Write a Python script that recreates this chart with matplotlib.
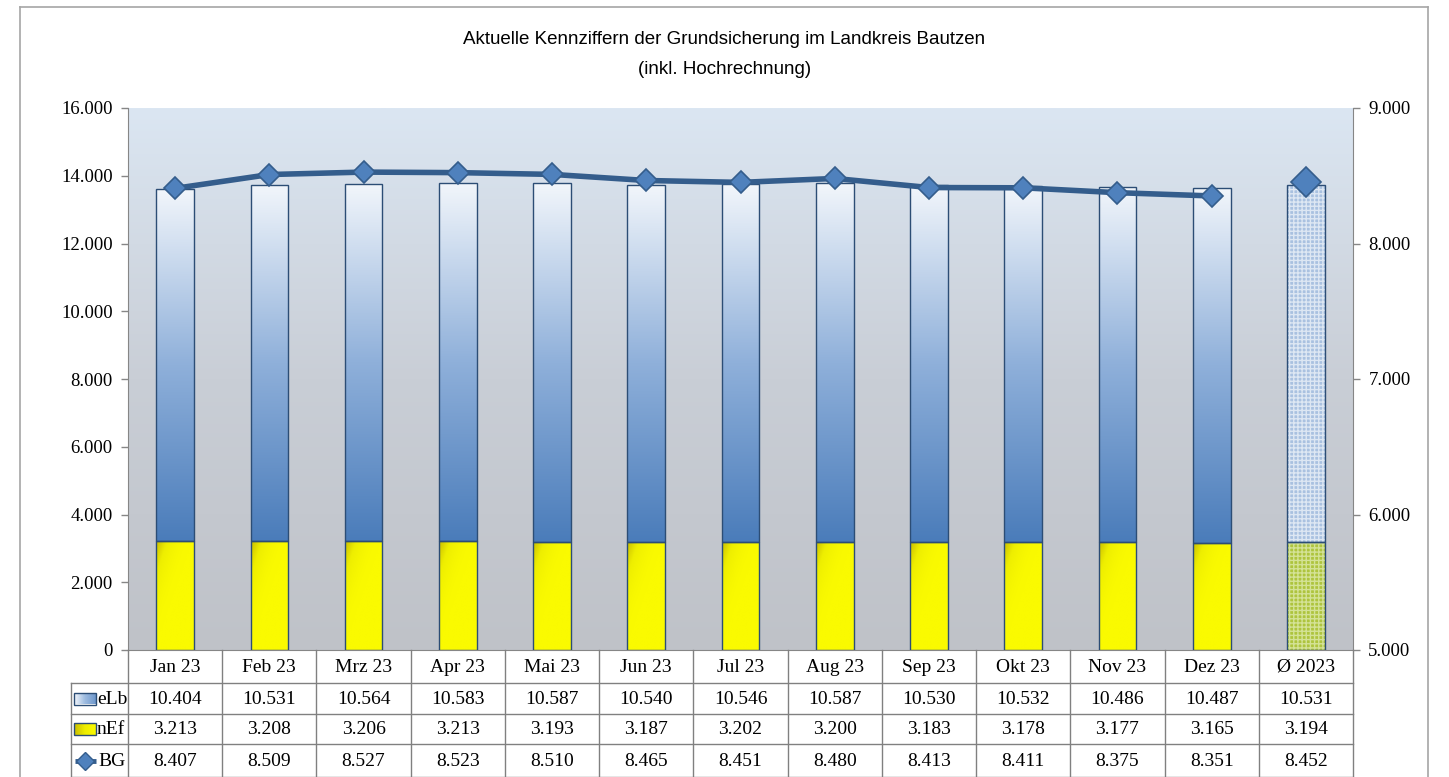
import numpy as np
import matplotlib.pyplot as plt
import matplotlib.transforms as mtransforms
from matplotlib.colors import LinearSegmentedColormap
from matplotlib.lines import Line2D
from matplotlib.patches import Rectangle

# Daten
monate = ['Jan 23', 'Feb 23', 'Mrz 23', 'Apr 23', 'Mai 23', 'Jun 23', 'Jul 23',
          'Aug 23', 'Sep 23', 'Okt 23', 'Nov 23', 'Dez 23', 'Ø 2023']
elb = [10404, 10531, 10564, 10583, 10587, 10540, 10546, 10587, 10530, 10532, 10486, 10487, 10531]
nef = [3213, 3208, 3206, 3213, 3193, 3187, 3202, 3200, 3183, 3178, 3177, 3165, 3194]
bg = [8407, 8509, 8527, 8523, 8510, 8465, 8451, 8480, 8413, 8411, 8375, 8351, 8452]

W, H = 1449, 777
SERIF = 'Liberation Serif'


def fmt(v):
    return f'{v:,}'.replace(',', '.')


def fx(px):
    return px / W


def fy(py):
    return 1 - py / H


fig = plt.figure(figsize=(W / 100, H / 100), dpi=100)
fig.patch.set_facecolor('white')
ax = fig.add_axes([fx(128), fy(650), (1353 - 128) / W, (650 - 108) / H])
x = np.arange(len(monate))

# Hintergrund-Verlauf
bg_cmap = LinearSegmentedColormap.from_list('bg', ['#bfc2c8', '#c9ced6', '#dbe6f2'])
grad = np.linspace(0, 1, 256).reshape(-1, 1)
ax.imshow(grad, extent=[-0.5, 12.5, 0, 16000], origin='lower', aspect='auto',
          cmap=bg_cmap, zorder=0)

# Balken mit Verlauf
elb_cmap = LinearSegmentedColormap.from_list('elb', ['#4a7cba', '#8fb0da', '#f2f6fb'])
nef_cmap = LinearSegmentedColormap.from_list('nef', ['#fafa00', '#eeee00', '#c9bd00'])
diag = np.add.outer(np.linspace(1, 0, 64), np.linspace(0, -1, 32))
diag = np.clip(diag, 0, 1) ** 2

bars_nef = ax.bar(x[:12], nef[:12], width=0.4, facecolor='none',
                  edgecolor='#2c4d75', linewidth=1, zorder=3)
bars_elb = ax.bar(x[:12], elb[:12], width=0.4, bottom=nef[:12], facecolor='none',
                  edgecolor='#2c4d75', linewidth=1, zorder=3)
for p in bars_elb:
    im = ax.imshow(grad, extent=[p.get_x(), p.get_x() + p.get_width(), p.get_y(),
                                 p.get_y() + p.get_height()],
                   origin='lower', aspect='auto', cmap=elb_cmap, zorder=2)
    im.set_clip_path(p)
for p in bars_nef:
    im = ax.imshow(diag, extent=[p.get_x(), p.get_x() + p.get_width(), p.get_y(),
                                 p.get_y() + p.get_height()],
                   origin='upper', aspect='auto', cmap=nef_cmap, zorder=2)
    im.set_clip_path(p)

# Durchschnittsbalken gemustert
plt.rcParams['hatch.linewidth'] = 1.0
ax.bar(x[12], nef[12], width=0.4, facecolor='#aec43e', edgecolor='#d4e296',
       hatch='++++', linewidth=0, zorder=2)
ax.bar(x[12], elb[12], width=0.4, bottom=nef[12], facecolor='#a9c1e0',
       edgecolor='#dde7f3', hatch='++++', linewidth=0, zorder=2)
ax.bar(x[12], nef[12], width=0.4, facecolor='none', edgecolor='#2c4d75', linewidth=1, zorder=3)
ax.bar(x[12], elb[12], width=0.4, bottom=nef[12], facecolor='none',
       edgecolor='#2c4d75', linewidth=1, zorder=3)

ax.set_xlim(-0.5, 12.5)
ax.set_ylim(0, 16000)
ax.set_yticks(np.arange(0, 16001, 2000))
ax.set_yticklabels([fmt(v) for v in range(0, 16001, 2000)])
ax.set_xticks([])

# BG-Linie auf rechter Achse
ax2 = ax.twinx()
ax2.plot(x[:12], bg[:12], color='#345d8c', linewidth=4, marker='D', markersize=11,
         markerfacecolor='#4f81bd', markeredgecolor='#345d8c', markeredgewidth=1.2, zorder=5)
ax2.plot(x[12], bg[12], linestyle='none', marker='D', markersize=15,
         markerfacecolor='#4f81bd', markeredgecolor='#345d8c', markeredgewidth=1.2, zorder=5)
ax2.set_ylim(5000, 9000)
ax2.set_yticks(np.arange(5000, 9001, 1000))
ax2.set_yticklabels([fmt(v) for v in range(5000, 9001, 1000)])

for a in (ax, ax2):
    for s in a.spines.values():
        s.set_visible(False)
    a.tick_params(axis='y', length=5, width=1, color='#868686', labelsize=13.5,
                  labelcolor='black', pad=6)
    for lbl in a.get_yticklabels():
        lbl.set_fontfamily(SERIF)
ax.spines['left'].set_visible(True)
ax.spines['left'].set_color('#868686')
ax.spines['bottom'].set_visible(True)
ax.spines['bottom'].set_color('#868686')
ax2.spines['right'].set_visible(True)
ax2.spines['right'].set_color('#868686')

# Titel
fig.text(0.5, fy(39), 'Aktuelle Kennziffern der Grundsicherung im Landkreis Bautzen',
         ha='center', va='center', fontsize=13.5, family='Liberation Sans')
fig.text(0.5, fy(70), '(inkl. Hochrechnung)',
         ha='center', va='center', fontsize=13.5, family='Liberation Sans')

# Rahmen
for xs, ys in [((20, 1428), (7, 7)), ((20, 20), (7, 800)), ((1428, 1428), (7, 800))]:
    fig.add_artist(Line2D([fx(v) for v in xs], [fy(v) for v in ys], color='#a6a6a6', linewidth=1.2))

# Datentabelle
grid = '#808080'
tx = mtransforms.blended_transform_factory(ax.transData, fig.transFigure)
ta = mtransforms.blended_transform_factory(ax.transAxes, fig.transFigure)
rows = [650, 683, 714, 744, 777]
left_ax = (71 - 128) / 1225
for r in rows[1:]:
    fig.add_artist(Line2D([left_ax, 1], [fy(r), fy(r)], transform=ta, color=grid, linewidth=1))
fig.add_artist(Line2D([left_ax, left_ax], [fy(683), fy(790)], transform=ta, color=grid, linewidth=1))
for b in np.arange(-0.5, 13, 1.0):
    fig.add_artist(Line2D([b, b], [fy(650), fy(790)], transform=tx, color=grid, linewidth=1))

werte = [monate, [fmt(v) for v in elb], [fmt(v) for v in nef], [fmt(v) for v in bg]]
for k, zeile in enumerate(werte):
    yc = fy((rows[k] + rows[k + 1]) / 2 + 1)
    for i, t in enumerate(zeile):
        fig.text(x[i], yc, t, transform=tx, ha='center', va='center',
                 fontsize=14, family=SERIF)

# Legendensymbole in der Tabelle
key_l, key_r = 74, 96
key_cmaps = [LinearSegmentedColormap.from_list('k1', ['#f4f7fb', '#9dbbe0', '#6f98cc']),
             LinearSegmentedColormap.from_list('k2', ['#c9bd00', '#eeee00', '#fafa00'])]
for k, name in enumerate(['eLb', 'nEf']):
    yc = (rows[k + 1] + rows[k + 2]) / 2
    key = Rectangle((fx(key_l), fy(yc + 6)), (key_r - key_l) / W, 12 / H,
                    facecolor='none', edgecolor='#2c4d75', linewidth=1,
                    transform=fig.transFigure, zorder=3)
    fig.add_artist(key)
    kim = fig.add_axes([fx(key_l), fy(yc + 6), (key_r - key_l) / W, 12 / H])
    kim.imshow(np.linspace(0, 1, 32).reshape(1, -1), aspect='auto', cmap=key_cmaps[k])
    kim.set_axis_off()
    fig.text(fx(97), fy(yc + 1), name, ha='left', va='center', fontsize=14, family=SERIF)
yc = (rows[3] + rows[4]) / 2
fig.add_artist(Line2D([fx(key_l + 1), fx(key_r)], [fy(yc), fy(yc)], color='#345d8c', linewidth=3.5,
                      solid_capstyle='butt'))
fig.add_artist(Line2D([fx((key_l + key_r) / 2)], [fy(yc)], linestyle='none', marker='D', markersize=9,
                      markerfacecolor='#4f81bd', markeredgecolor='#345d8c'))
fig.text(fx(98), fy(yc + 1), 'BG', ha='left', va='center', fontsize=14, family=SERIF)

fig.savefig('out.png', dpi=100)
